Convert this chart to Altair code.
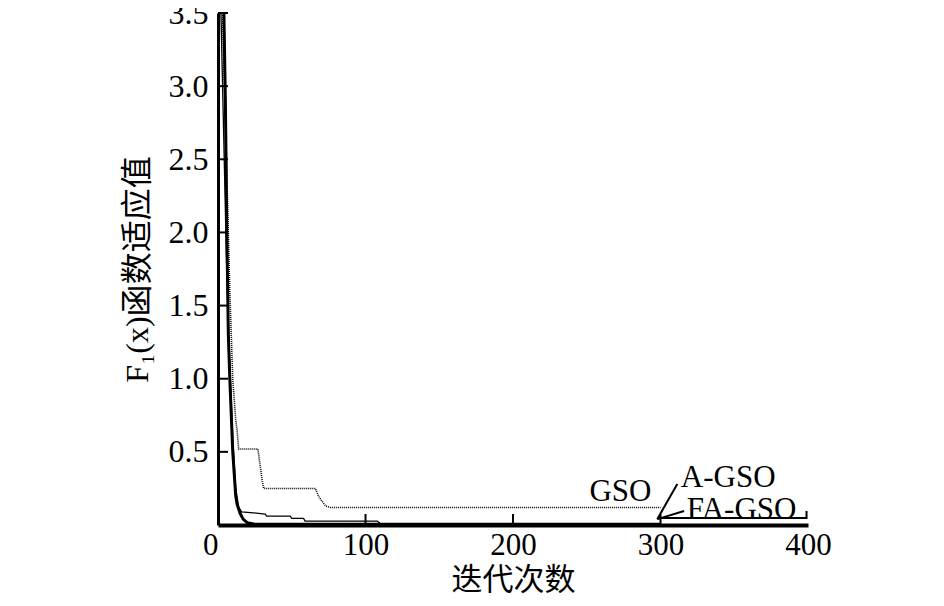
import altair as alt
import pandas as pd

# ---- data ----
series_names = ["GSO", "A-GSO", "FA-GSO"]

gso_iter = [3, 5, 6, 8, 10, 12, 13, 14, 27, 28, 30, 31, 66, 68, 70, 73, 76, 300]
gso_val = [3.5, 2.8, 2.4, 1.6, 1.0, 0.72, 0.64, 0.52, 0.52, 0.45, 0.30, 0.25, 0.25, 0.20, 0.17, 0.13, 0.12, 0.12]

agso_iter = [2, 4, 6, 8, 10, 12, 14, 16, 22, 32, 33, 49, 50, 58, 59, 108, 110, 300]
agso_val = [3.5, 2.6, 1.7, 1.1, 0.6, 0.25, 0.12, 0.09, 0.085, 0.075, 0.06, 0.06, 0.045, 0.045, 0.027, 0.027, 0.01, 0.01]

fagso_iter = [4, 5, 6, 7, 8, 9, 10, 11, 12, 13, 15, 17, 20, 25, 300]
fagso_val = [3.5, 2.9, 2.0, 1.3, 1.0, 0.75, 0.5, 0.35, 0.2, 0.14, 0.08, 0.04, 0.015, 0.005, 0.005]

# curve labels (data units)
label_text = ["GSO", "A-GSO", "FA-GSO"]
label_x = [272.8, 345.9, 355.0]
label_y = [0.164, 0.26, 0.041]

# pointer segments from labels to the curves
pointer_seg = ["A", "A", "F", "F"]
pointer_x = [297.8, 311.4, 297.8, 316.0]
pointer_y = [0.04, 0.28, 0.04, 0.096]

# underline of the FA-GSO label box
frame_x = [298, 399, 399]
frame_y = [0.048, 0.048, 0.096]

x_tick_vals = [0, 100, 200, 300, 400]
y_tick_vals = [0.5, 1.0, 1.5, 2.0, 2.5, 3.0, 3.5]

# ---- tables ----
rows = []
for name, xs, ys in zip(series_names, [gso_iter, agso_iter, fagso_iter], [gso_val, agso_val, fagso_val]):
    for i, (a, b) in enumerate(zip(xs, ys)):
        rows.append({"series": name, "iter": a, "value": b, "k": i})
curves = pd.DataFrame(rows)

labels = pd.DataFrame({"text": label_text, "iter": label_x, "value": label_y})
pointers = pd.DataFrame({"seg": pointer_seg, "iter": pointer_x, "value": pointer_y,
                         "k": list(range(len(pointer_x)))})
frame = pd.DataFrame({"iter": frame_x, "value": frame_y, "k": list(range(len(frame_x)))})
yticks = pd.DataFrame({"value": y_tick_vals})
xticks = pd.DataFrame({"iter": x_tick_vals[1:-1]})

SERIF = "Liberation Serif, Times New Roman, serif"
CJK = "Liberation Serif, Noto Sans CJK SC, serif"

xscale = alt.Scale(domain=[0, 400], nice=False, zero=False)
yscale = alt.Scale(domain=[0, 3.5], nice=False)

x_axis = alt.Axis(
    values=x_tick_vals, title="迭代次数", ticks=False, tickSize=0, grid=False,
    domainColor="black", domainWidth=4, labelFont=SERIF, labelFontSize=31,
    labelColor="black", labelPadding=5, labelAlign={"expr": "datum.value == 0 ? 'right' : 'center'"},
    titleFont="Noto Sans CJK SC", titleFontSize=31, titleFontWeight="normal",
    titleColor="black", titlePadding=5,
)
y_axis = alt.Axis(
    values=y_tick_vals, title="F₁(x)函数适应值", ticks=False, tickSize=0, grid=False,
    domainColor="black", domainWidth=3, labelFont=SERIF, labelFontSize=32,
    labelColor="black", labelPadding=10,
    titleFont=CJK, titleFontSize=32, titleFontWeight="normal",
    titleColor="black", titlePadding=14,
)

base = alt.Chart(curves)

gso_line = base.transform_filter(alt.datum.series == "GSO").mark_line(
    color="black", strokeWidth=1.6, strokeDash=[1, 1], clip=True
).encode(
    x=alt.X("iter:Q", scale=xscale, axis=x_axis),
    y=alt.Y("value:Q", scale=yscale, axis=y_axis),
    order="k:Q",
)
agso_line = base.transform_filter(alt.datum.series == "A-GSO").mark_line(
    color="black", strokeWidth=1.3, clip=True
).encode(x="iter:Q", y="value:Q", order="k:Q")
fagso_line = base.transform_filter(alt.datum.series == "FA-GSO").mark_line(
    color="black", strokeWidth=3, clip=True
).encode(x="iter:Q", y="value:Q", order="k:Q")

ptr = alt.Chart(pointers).mark_line(color="black", strokeWidth=2).encode(
    x="iter:Q", y="value:Q", detail="seg:N", order="k:Q"
)
frm = alt.Chart(frame).mark_line(color="black", strokeWidth=2).encode(
    x="iter:Q", y="value:Q", order="k:Q"
)
txt = alt.Chart(labels).mark_text(
    font=SERIF, fontSize=31, color="black", align="center", baseline="alphabetic"
).encode(x="iter:Q", y="value:Q", text="text:N")

ytk = alt.Chart(yticks).mark_rule(color="black", strokeWidth=2).encode(
    y="value:Q", x=alt.value(0), x2=alt.value(10)
)
xtk = alt.Chart(xticks).mark_rule(color="black", strokeWidth=2).encode(
    x="iter:Q", y=alt.value(512), y2=alt.value(501)
)

chart = alt.layer(gso_line, agso_line, fagso_line, ptr, frm, txt, ytk, xtk).properties(
    width=590, height=512,
    padding={"left": 210, "top": 5, "right": 120, "bottom": 73},
    autosize=alt.AutoSizeParams(type="none"),
    background="white",
).configure_view(stroke=None)

chart.save("out.html", embed_options={"renderer": "svg", "actions": False})
